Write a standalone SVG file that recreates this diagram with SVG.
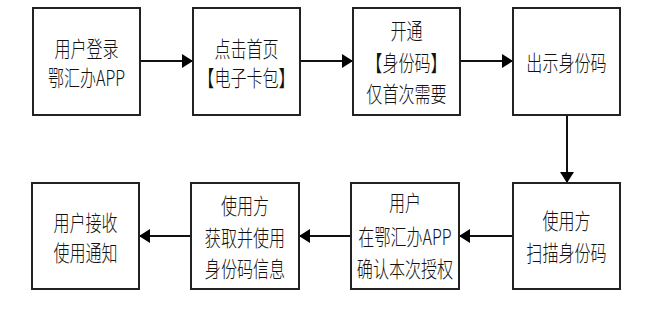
<svg xmlns="http://www.w3.org/2000/svg" width="665" height="319" viewBox="0 0 665 319">
<style>
.box{fill:#fff;stroke:#222;stroke-width:2}
.t{font-family:"Noto Sans CJK SC","Liberation Serif",serif;font-size:22px;font-weight:300;fill:#111;text-anchor:middle;dominant-baseline:central}
.c{fill:none;stroke:#111;stroke-width:2}
</style>
<defs>
<marker id="ah" markerUnits="userSpaceOnUse" markerWidth="12" markerHeight="16" refX="11" refY="7" orient="auto">
<path d="M0,0 L11,7 L0,14 Z" fill="#000"/>
</marker>
</defs>
<rect width="665" height="319" fill="#fff"/>
<g id="connectors">
<line class="c" x1="140" y1="61" x2="193" y2="61" marker-end="url(#ah)"/>
<line class="c" x1="300" y1="61" x2="353" y2="61" marker-end="url(#ah)"/>
<line class="c" x1="460" y1="61" x2="513" y2="61" marker-end="url(#ah)"/>
<line class="c" x1="567" y1="115" x2="567" y2="183" marker-end="url(#ah)"/>
<line class="c" x1="513" y1="236" x2="459" y2="236" marker-end="url(#ah)"/>
<line class="c" x1="351" y1="236" x2="299" y2="236" marker-end="url(#ah)"/>
<line class="c" x1="191" y1="236" x2="139" y2="236" marker-end="url(#ah)"/>
</g>
<g id="n1">
<rect class="box" x="33" y="8" width="107" height="107"/>
<text class="t" transform="translate(86.5,48) scale(0.73,1)">用户登录</text>
<text class="t" transform="translate(86.5,77) scale(0.73,1)">鄂汇办APP</text>
</g>
<g id="n2">
<rect class="box" x="193" y="8" width="107" height="107"/>
<text class="t" transform="translate(246.5,48) scale(0.73,1)">点击首页</text>
<text class="t" transform="translate(246.5,77) scale(0.73,1)">【电子卡包】</text>
</g>
<g id="n3">
<rect class="box" x="353" y="8" width="107" height="107"/>
<text class="t" transform="translate(406.5,30) scale(0.73,1)">开通</text>
<text class="t" transform="translate(406.5,62) scale(0.73,1)">【身份码】</text>
<text class="t" transform="translate(406.5,93) scale(0.73,1)">仅首次需要</text>
</g>
<g id="n4">
<rect class="box" x="513" y="8" width="107" height="107"/>
<text class="t" transform="translate(566.5,62) scale(0.73,1)">出示身份码</text>
</g>
<g id="n5">
<rect class="box" x="513" y="183" width="107" height="106"/>
<text class="t" transform="translate(566.5,220) scale(0.73,1)">使用方</text>
<text class="t" transform="translate(566.5,252) scale(0.73,1)">扫描身份码</text>
</g>
<g id="n6">
<rect class="box" x="351" y="183" width="108" height="106"/>
<text class="t" transform="translate(405,202) scale(0.73,1)">用户</text>
<text class="t" transform="translate(405,236) scale(0.73,1)">在鄂汇办APP</text>
<text class="t" transform="translate(405,268) scale(0.73,1)">确认本次授权</text>
</g>
<g id="n7">
<rect class="box" x="191" y="183" width="108" height="106"/>
<text class="t" transform="translate(245,205) scale(0.73,1)">使用方</text>
<text class="t" transform="translate(245,237) scale(0.73,1)">获取并使用</text>
<text class="t" transform="translate(245,268) scale(0.73,1)">身份码信息</text>
</g>
<g id="n8">
<rect class="box" x="32" y="183" width="107" height="106"/>
<text class="t" transform="translate(85.5,222) scale(0.73,1)">用户接收</text>
<text class="t" transform="translate(85.5,252) scale(0.73,1)">使用通知</text>
</g>
</svg>
